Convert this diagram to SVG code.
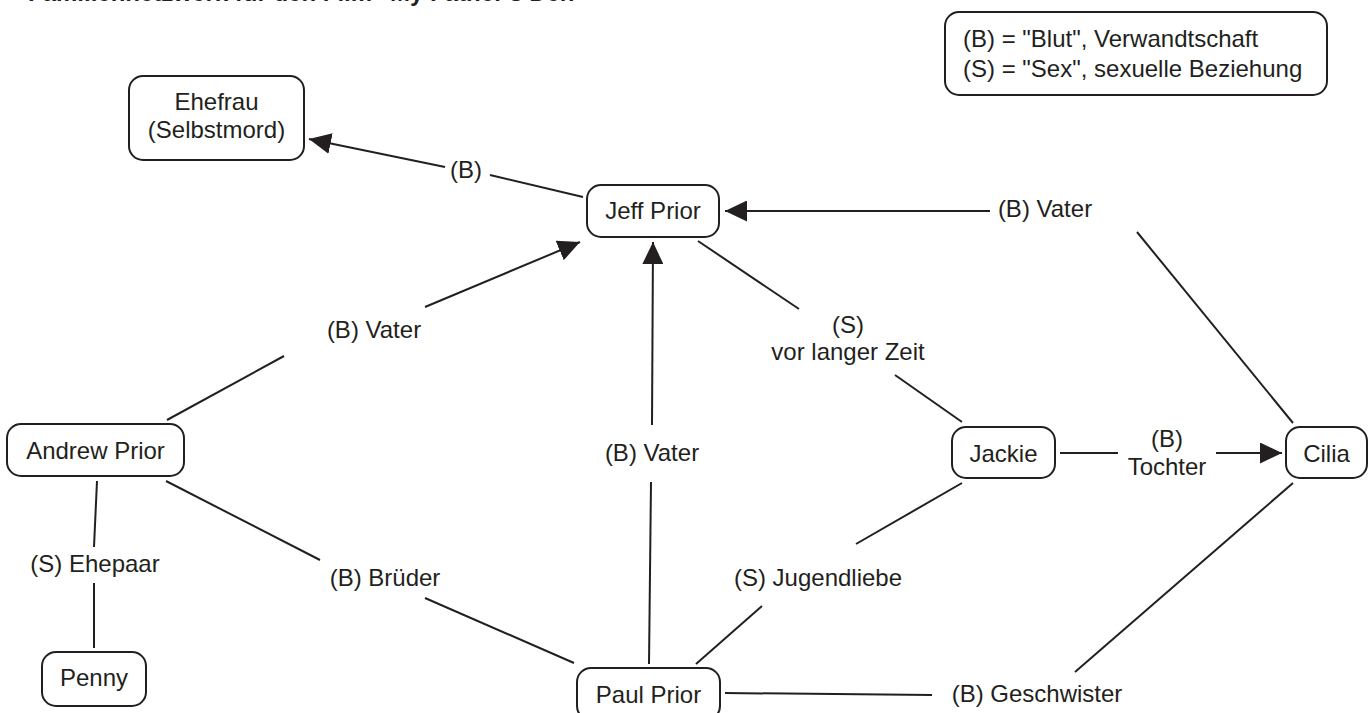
<svg xmlns="http://www.w3.org/2000/svg" width="1372" height="713" viewBox="0 0 1372 713">
<defs>
<style>
.node rect{fill:#fff;stroke:#231f20;stroke-width:2;}
text{font-family:"Liberation Sans",Arial,sans-serif;font-size:24px;fill:#231f20;}
.c{text-anchor:middle;}
.title{font-weight:bold;font-size:24px;}
#connectors line{stroke:#231f20;stroke-width:2;fill:none;}
</style>
<marker id="arr" viewBox="0 0 22 21" refX="22" refY="10.5" markerWidth="22" markerHeight="21" markerUnits="userSpaceOnUse" orient="auto">
<path d="M0,0 L22,10.5 L0,21 z" fill="#231f20"/>
</marker>
</defs>
<rect width="1372" height="713" fill="#fff"/>
<text class="title" x="28" y="1">Familiennetzwerk für den Film "My Father's Den"</text>

<g id="connectors">
<line x1="583" y1="197" x2="490" y2="175"/>
<line x1="445" y1="167" x2="309" y2="139" marker-end="url(#arr)"/>
<line x1="1293" y1="423" x2="1137" y2="232"/>
<line x1="990" y1="211" x2="725" y2="211" marker-end="url(#arr)"/>
<line x1="167" y1="420" x2="284" y2="356"/>
<line x1="425" y1="307" x2="580" y2="242" marker-end="url(#arr)"/>
<line x1="649" y1="664" x2="651" y2="482"/>
<line x1="652" y1="425" x2="653" y2="242" marker-end="url(#arr)"/>
<line x1="698" y1="241" x2="799" y2="309"/>
<line x1="895" y1="375" x2="962" y2="422"/>
<line x1="1060" y1="453" x2="1118" y2="453"/>
<line x1="1216" y1="453" x2="1282" y2="453" marker-end="url(#arr)"/>
<line x1="97" y1="481" x2="94" y2="547"/>
<line x1="94" y1="583" x2="94" y2="648"/>
<line x1="166" y1="481" x2="320" y2="560"/>
<line x1="425" y1="598" x2="574" y2="663"/>
<line x1="962" y1="483" x2="856" y2="544"/>
<line x1="762" y1="606" x2="696" y2="664"/>
<line x1="1293" y1="483" x2="1075" y2="672"/>
<line x1="725" y1="693" x2="932" y2="695"/>
<text class="c" x="466" y="178">(B)</text>
<text class="c" x="1045" y="217">(B) Vater</text>
<text class="c" x="374" y="338">(B) Vater</text>
<text class="c" x="848" y="333">(S)</text>
<text class="c" x="848" y="360">vor langer Zeit</text>
<text class="c" x="652" y="461">(B) Vater</text>
<text class="c" x="1167" y="447">(B)</text>
<text class="c" x="1167" y="475">Tochter</text>
<text class="c" x="95" y="572">(S) Ehepaar</text>
<text class="c" x="385" y="586">(B) Brüder</text>
<text class="c" x="818" y="586">(S) Jugendliebe</text>
<text class="c" x="1037" y="702">(B) Geschwister</text>
</g>

<g id="legend" class="node">
<rect x="945" y="12" width="382" height="83" rx="14"/>
<text x="963" y="47">(B) = "Blut", Verwandtschaft</text>
<text x="963" y="77">(S) = "Sex", sexuelle Beziehung</text>
</g>
<g id="ehefrau" class="node">
<rect x="129" y="76" width="175" height="84" rx="14"/>
<text class="c" x="216.5" y="110">Ehefrau</text>
<text class="c" x="216.5" y="138">(Selbstmord)</text>
</g>
<g id="jeff" class="node">
<rect x="587" y="185" width="132" height="52" rx="14"/>
<text class="c" x="653" y="219">Jeff Prior</text>
</g>
<g id="andrew" class="node">
<rect x="7" y="424" width="177" height="52" rx="14"/>
<text class="c" x="95.5" y="459">Andrew Prior</text>
</g>
<g id="penny" class="node">
<rect x="42" y="652" width="104" height="54" rx="14"/>
<text class="c" x="94" y="686">Penny</text>
</g>
<g id="paul" class="node">
<rect x="577" y="668" width="143" height="52" rx="14"/>
<text class="c" x="648.5" y="703">Paul Prior</text>
</g>
<g id="jackie" class="node">
<rect x="952" y="427" width="103" height="51" rx="14"/>
<text class="c" x="1003.5" y="462">Jackie</text>
</g>
<g id="cilia" class="node">
<rect x="1286" y="427" width="81" height="51" rx="14"/>
<text class="c" x="1326.5" y="462">Cilia</text>
</g>
</svg>
